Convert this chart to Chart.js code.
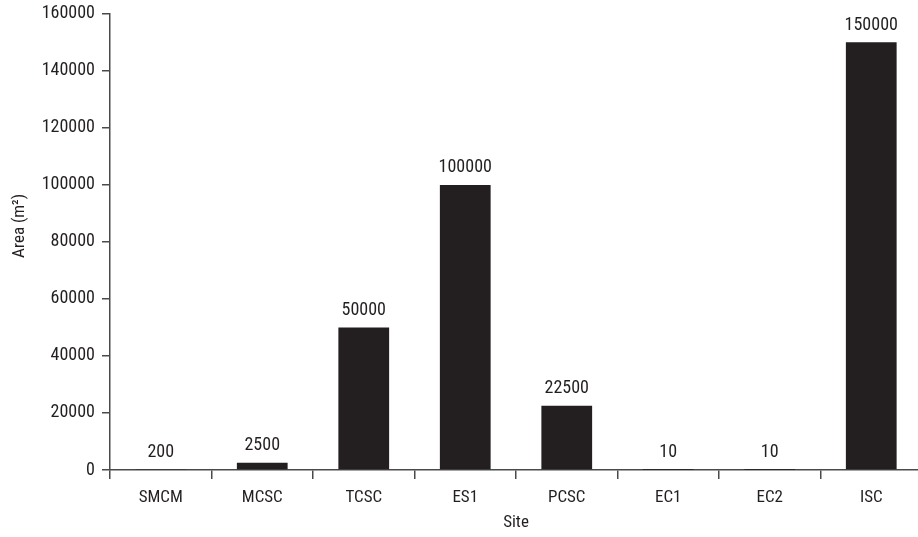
<!DOCTYPE html>
<html lang="en">
<head>
  <meta charset="UTF-8" />
  <title>Area by Site</title>
  <script src="https://cdn.jsdelivr.net/npm/chart.js"></script>
  <style>
    html, body { margin: 0; padding: 0; background: #fff; overflow: hidden; }
    #wrap { width: 926px; height: 541px; margin-top: -4px; }
  </style>
</head>
<body>
  <div id="wrap"><canvas id="areaChart" width="926" height="541"></canvas></div>

  <script>
    const sites = ["SMCM", "MCSC", "TCSC", "ES1", "PCSC", "EC1", "EC2", "ISC"];
    const areas = [200, 2500, 50000, 100000, 22500, 10, 10, 150000];
    const yMax = 160000;
    const yStep = 20000;
    const yTitle = "Area (m²)";

    const FONT = "'Liberation Sans Narrow', 'Roboto Condensed', 'Liberation Sans', sans-serif";
    const TEXT = "#231f20";
    const AXIS = "#4a4a4a";

    // numbers above each bar + the y axis title (sits a bit above centre in the original)
    const extras = {
      id: "extras",
      afterDatasetsDraw(chart) {
        const ctx = chart.ctx;
        const meta = chart.getDatasetMeta(0);
        ctx.save();
        ctx.font = "18px " + FONT;
        ctx.fillStyle = TEXT;
        ctx.textAlign = "center";
        ctx.textBaseline = "bottom";
        meta.data.forEach((bar, i) => {
          ctx.fillText(String(areas[i]), bar.x, bar.y - 8);
        });

        const a = chart.chartArea;
        ctx.translate(20, (a.top + a.bottom) / 2 - 16);
        ctx.rotate(-Math.PI / 2);
        ctx.textBaseline = "middle";
        ctx.font = "17px " + FONT;
        ctx.fillText(yTitle, 0, 0);
        ctx.restore();
      }
    };

    new Chart(document.getElementById("areaChart"), {
      type: "bar",
      data: {
        labels: sites,
        datasets: [{
          data: areas,
          backgroundColor: "#231f20",
          barPercentage: 0.5,
          categoryPercentage: 1
        }]
      },
      options: {
        responsive: false,
        animation: false,
        layout: { padding: { top: 4, right: 4, left: 0, bottom: 0 } },
        plugins: { legend: { display: false }, tooltip: { enabled: false } },
        scales: {
          x: {
            afterFit: s => { s.height = 67; },
            border: { color: AXIS, width: 1.5 },
            grid: { offset: true, drawOnChartArea: false, tickLength: 9, color: AXIS, lineWidth: 1.5 },
            ticks: { color: TEXT, font: { family: FONT, size: 17 }, padding: 9 },
            title: { display: true, text: "Site", color: TEXT, font: { family: FONT, size: 17 }, padding: { top: 2 } }
          },
          y: {
            min: 0,
            max: yMax,
            afterFit: s => { s.width = 110; },
            border: { color: AXIS, width: 1.5 },
            grid: { drawOnChartArea: false, tickLength: 8, color: AXIS, lineWidth: 1.5 },
            ticks: { stepSize: yStep, color: TEXT, font: { family: FONT, size: 18 }, padding: 7,
                     callback: v => String(v) }
          }
        }
      },
      plugins: [extras]
    });
  </script>
</body>
</html>
